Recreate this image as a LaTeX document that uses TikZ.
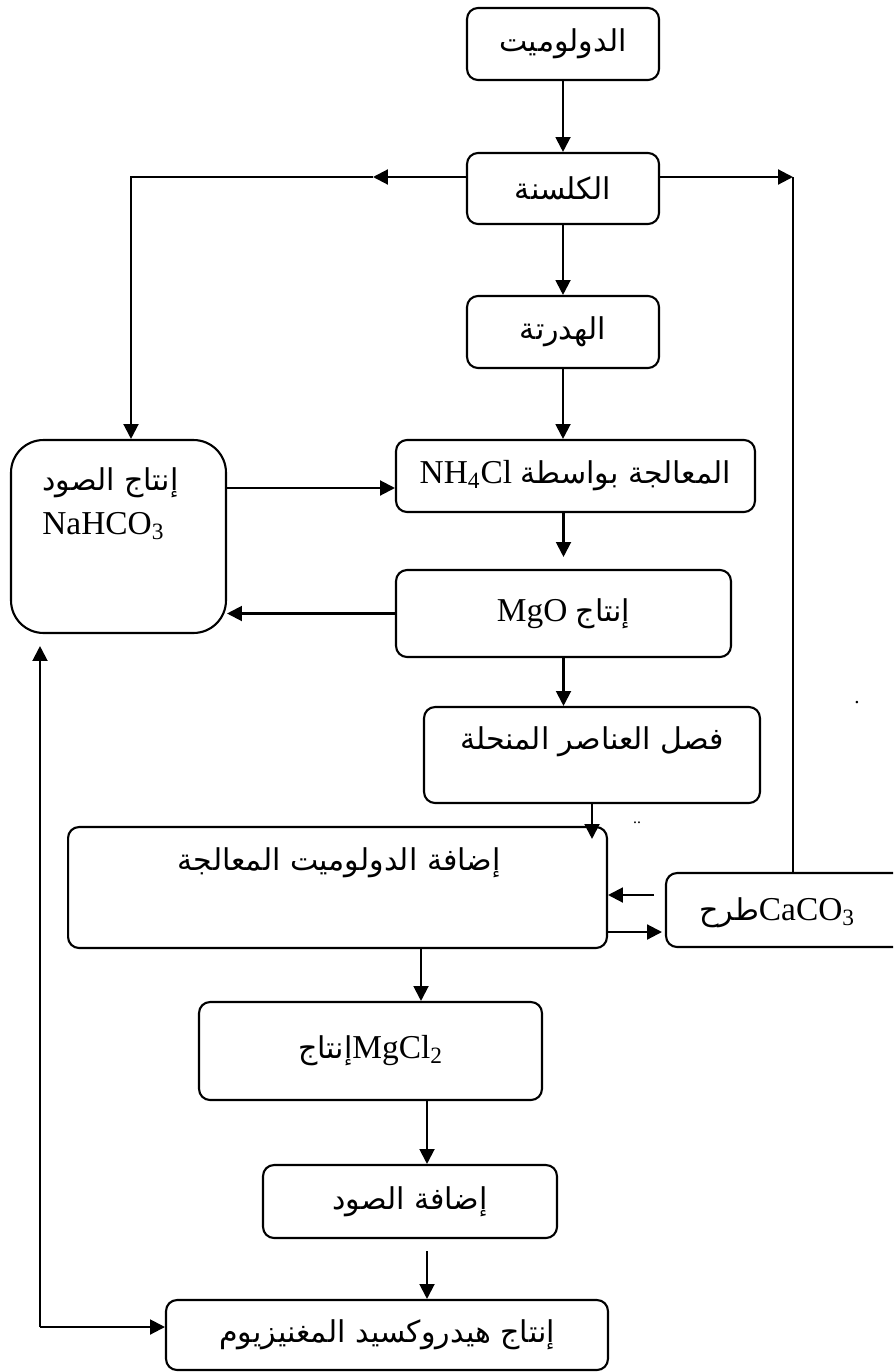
\documentclass[tikz,border=0pt]{standalone}
\usepackage{fontspec}
\setmainfont{Liberation Serif}
\newfontfamily\arabicfont[Script=Arabic, Scale=0.9]{DejaVu Sans}
\usetikzlibrary{arrows.meta, positioning, calc}
\TeXXeTstate=1
\newcommand{\arab}[1]{{\arabicfont\beginR #1\endR}}
\tikzset{
	stepbox/.style={draw, line width=1.2pt, rounded corners=0.22cm, inner sep=0pt,
		font=\fontsize{19}{23}\selectfont},
	arr/.style={-{Triangle[length=8.5pt,width=8.5pt]}, line width=1.2pt},
	txt/.style={inner sep=0pt, font=\fontsize{19}{23}\selectfont}
}

\begin{document}
\begin{tikzpicture}[x=0.02cm, y=-0.02cm]
	\path[use as bounding box, clip] (0,0) rectangle (893,1372);
	% main column
	\node[stepbox, minimum width=3.84cm, minimum height=1.44cm] (dolo) at (563,44) {\arab{الدولوميت}};
	\node[stepbox, minimum width=3.84cm, minimum height=1.42cm] (calc) at (563,188.5) {\arab{الكلسنة}};
	\node[stepbox, minimum width=3.84cm, minimum height=1.44cm] (hydr) at (563,332) {\arab{الهدرتة}};
	\node[stepbox, minimum width=7.18cm, minimum height=1.44cm] (nhcl) at (575.5,476) {NH\textsubscript{4}Cl \arab{المعالجة بواسطة}};
	\node[stepbox, minimum width=6.7cm, minimum height=1.74cm] (mgo) at (563.5,613.5) {MgO \arab{إنتاج}};
	\node[stepbox, minimum width=6.72cm, minimum height=1.92cm] (sep) at (592,755) {};
	\node[txt] (sept) at (592,742) {\arab{فصل العناصر المنحلة}};
	\node[stepbox, minimum width=10.78cm, minimum height=2.42cm] (add) at (337.5,887.5) {};
	\node[txt] (addt) at (339,863) {\arab{إضافة الدولوميت المعالجة}};
	\node[stepbox, minimum width=5.28cm, minimum height=1.48cm] (caco) at (798,910) {};
	\node[txt] (cacot) at (777,913) {\arab{طرح}CaCO\textsubscript{3}};
	\node[stepbox, minimum width=6.86cm, minimum height=1.96cm] (mgcl) at (370.5,1051) {\arab{إنتاج}MgCl\textsubscript{2}};
	\node[stepbox, minimum width=5.88cm, minimum height=1.46cm] (soda) at (410,1201.5) {\arab{إضافة الصود}};
	\node[stepbox, minimum width=8.84cm, minimum height=1.4cm] (hydrox) at (387,1335) {\arab{إنتاج هيدروكسيد المغنيزيوم}};
	% soda box on the left
	\node[stepbox, rounded corners=0.65cm, minimum width=4.3cm, minimum height=3.86cm] (nahco) at (118.5,536.5) {};
	\node[txt, anchor=west, align=left] (nahcot) at (42,504) {\arab{إنتاج الصود}\\[2pt]NaHCO\textsubscript{3}};
	% stray dots
	\node[inner sep=0pt, font=\large] (dota) at (857,703) {.};
	\node[inner sep=0pt, font=\small] (dotb) at (637,823) {..};
	% free ends
	\coordinate (lmid) at (373,177);
	\coordinate (ltop) at (131,177);
	\coordinate (rtop) at (793,177);
	\coordinate (lbot) at (40,1327);
	\coordinate (cin) at (654,895);
	\coordinate (cout) at (662,932);
	\coordinate (xa) at (421,0);
	\coordinate (xb) at (427,0);
	% connectors
	\draw[arr] (dolo) -- (calc);
	\draw[arr] (calc) -- (hydr);
	\draw[arr] (hydr.south) -- (hydr.south |- nhcl.north);
	\draw[arr, shorten >=0.24cm] (mgo.north |- nhcl.south) -- (mgo.north);
	\draw[arr] (mgo.south) -- (mgo.south |- sep.north);
	\draw[arr, shorten >=-0.26cm] (sep.south) -- (sep.south |- add.north);
	\draw[arr] (xa |- add.south) -- (xa |- mgcl.north);
	\draw[arr] (xb |- mgcl.south) -- (xb |- soda.north);
	\draw[arr, shorten <=0.24cm] (xb |- soda.south) -- (xb |- hydrox.north);
	\draw[arr] (lmid -| calc.west) -- (lmid);
	\draw[arr] (lmid) -- (ltop) -- (ltop |- nahco.north);
	\draw[arr] (rtop -| calc.east) -- (rtop);
	\draw[line width=1.2pt] (rtop) -- (rtop |- caco.north);
	\draw[arr] (nahco.east |- 0,488) -- (nhcl.west |- 0,488);
	\draw[arr] (mgo.west) -- (mgo.west -| nahco.east);
	\draw[arr] (cin) -- (cin -| add.east);
	\draw[arr] (cout -| add.east) -- (cout);
	\draw[arr] (lbot) -- (lbot -| hydrox.west);
	\draw[arr, shorten >=0.24cm] (lbot) -- (lbot |- nahco.south);
\end{tikzpicture}
\end{document}
